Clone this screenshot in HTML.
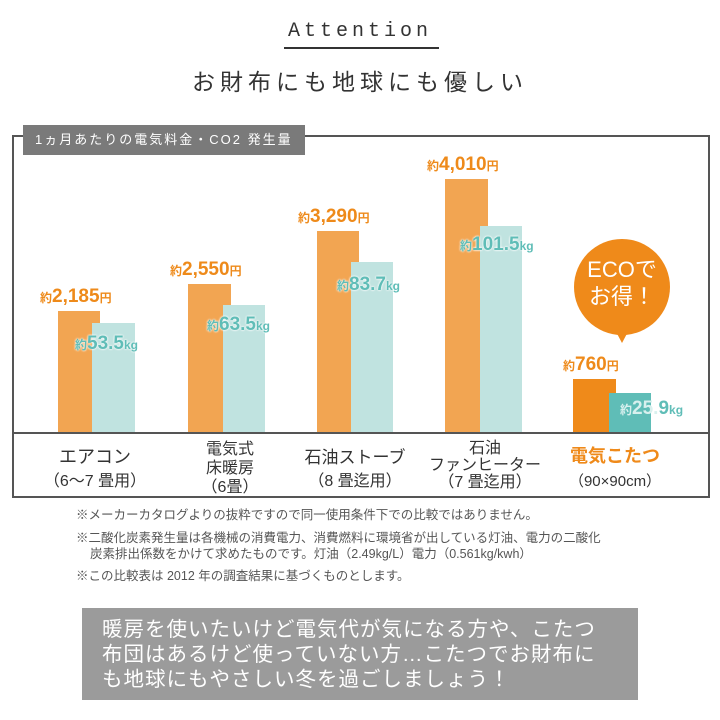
<!DOCTYPE html>
<html><head><meta charset="utf-8"><style>
*{margin:0;padding:0;box-sizing:border-box}
body{width:720px;height:720px;background:#fff;position:relative;overflow:hidden;font-family:"Liberation Sans","Noto Sans CJK JP",sans-serif;color:#333}
.a{position:absolute;white-space:nowrap}
.o{background:#f2a552;position:absolute}
.t{background:#c0e3e0;position:absolute}
.lo{position:absolute;color:#ee8a1a;font-weight:bold;font-size:19px;white-space:nowrap;font-family:"Liberation Sans Narrow","Liberation Sans","Noto Sans CJK JP",sans-serif}
.lo small,.lt small{font-size:12px}
.lt{position:absolute;color:#5fbdb7;font-weight:bold;font-size:19px;white-space:nowrap;font-family:"Liberation Sans Narrow","Liberation Sans","Noto Sans CJK JP",sans-serif;text-shadow:0 0 2px #fff,0 0 2px #fff}
.cat{position:absolute;text-align:center;font-size:16px;line-height:19px;color:#333}
.n{position:absolute;font-size:12.5px;color:#555;white-space:nowrap}
</style></head><body>
<div class="a" style="left:0;width:720px;top:20px;text-align:center;font-family:'Liberation Mono',monospace;font-size:20px;letter-spacing:4px">Attention</div>
<div class="a" style="left:284px;top:47px;width:155px;height:2px;background:#333"></div>
<div class="a" style="left:0;width:720px;top:63px;text-align:center;font-size:23px;letter-spacing:5px">お財布にも地球にも優しい</div>

<div class="a" style="left:12px;top:135px;width:698px;height:363px;border:2px solid #555"></div>
<div class="a" style="left:12px;top:432px;width:698px;height:2px;background:#555"></div>
<div class="a" style="left:23px;top:125px;width:282px;height:30px;background:#7a7a7a;color:#fff;font-size:13px;line-height:30px;padding-left:12px;letter-spacing:2px">1ヵ月あたりの電気料金・CO2 発生量</div>

<div class="o" style="left:58px;top:311px;width:42px;height:121px"></div>
<div class="t" style="left:92px;top:323px;width:43px;height:109px"></div>
<div class="lo" style="left:40px;top:286px"><small>約</small>2,185<small>円</small></div>
<div class="lt" style="left:75px;top:333px"><small>約</small>53.5<small>kg</small></div>

<div class="o" style="left:188px;top:284px;width:43px;height:148px"></div>
<div class="t" style="left:223px;top:305px;width:42px;height:127px"></div>
<div class="lo" style="left:170px;top:259px"><small>約</small>2,550<small>円</small></div>
<div class="lt" style="left:207px;top:314px"><small>約</small>63.5<small>kg</small></div>

<div class="o" style="left:317px;top:231px;width:42px;height:201px"></div>
<div class="t" style="left:351px;top:262px;width:42px;height:170px"></div>
<div class="lo" style="left:298px;top:206px"><small>約</small>3,290<small>円</small></div>
<div class="lt" style="left:337px;top:274px"><small>約</small>83.7<small>kg</small></div>

<div class="o" style="left:445px;top:179px;width:43px;height:253px"></div>
<div class="t" style="left:480px;top:226px;width:42px;height:206px"></div>
<div class="lo" style="left:427px;top:154px"><small>約</small>4,010<small>円</small></div>
<div class="lt" style="left:460px;top:234px"><small>約</small>101.5<small>kg</small></div>

<div class="o" style="left:573px;top:379px;width:43px;height:53px;background:#ef8a1a"></div>
<div class="t" style="left:609px;top:393px;width:42px;height:39px;background:#5fbdb7"></div>
<div class="lo" style="left:563px;top:354px"><small>約</small>760<small>円</small></div>
<div class="lt" style="left:620px;top:398px;text-shadow:none"><small style="color:#d8f0ee">約</small><span style="color:#d8f0ee">25.</span>9<small>kg</small></div>

<div class="a" style="left:574px;top:239px;width:96px;height:96px;border-radius:50%;background:#ef8a1a"></div>
<div class="a" style="left:614px;top:328px;width:0;height:0;border-left:8px solid transparent;border-right:8px solid transparent;border-top:15px solid #ef8a1a"></div>
<div class="a" style="left:574px;top:256px;width:96px;text-align:center;color:#fff;font-size:22px;line-height:27px">ECOで<br>お得！</div>

<div class="cat" style="left:20px;width:150px;top:446px;font-size:18px;line-height:23px">エアコン<br><span style="font-size:16px">（6〜7 畳用）</span></div>
<div class="cat" style="left:155px;width:150px;top:440px">電気式<br>床暖房<br>（6畳）</div>
<div class="cat" style="left:280px;width:150px;top:446px;font-size:17px;line-height:23px">石油ストーブ<br><span style="font-size:16px">（8 畳迄用）</span></div>
<div class="cat" style="left:410px;width:150px;top:440px;line-height:17px">石油<br>ファンヒーター<br>（7 畳迄用）</div>
<div class="cat" style="left:540px;width:150px;top:444px;font-size:18px;line-height:24px"><b style="color:#ef8a1a">電気こたつ</b><br><span style="font-size:15px">（90×90cm）</span></div>

<div class="n" style="left:76px;top:504px">※メーカーカタログよりの抜粋ですので同一使用条件下での比較ではありません。</div>
<div class="n" style="left:76px;top:527px">※二酸化炭素発生量は各機械の消費電力、消費燃料に環境省が出している灯油、電力の二酸化</div>
<div class="n" style="left:90px;top:543px">炭素排出係数をかけて求めたものです。灯油（2.49kg/L）電力（0.561kg/kwh）</div>
<div class="n" style="left:76px;top:565px">※この比較表は 2012 年の調査結果に基づくものとします。</div>

<div class="a" style="left:82px;top:608px;width:556px;height:92px;background:#9b9b9b;color:#fff;font-size:20.5px;line-height:25px;padding:9px 0 0 20px;letter-spacing:1px">暖房を使いたいけど電気代が気になる方や、こたつ<br>布団はあるけど使っていない方…こたつでお財布に<br>も地球にもやさしい冬を過ごしましょう！</div>
</body></html>
